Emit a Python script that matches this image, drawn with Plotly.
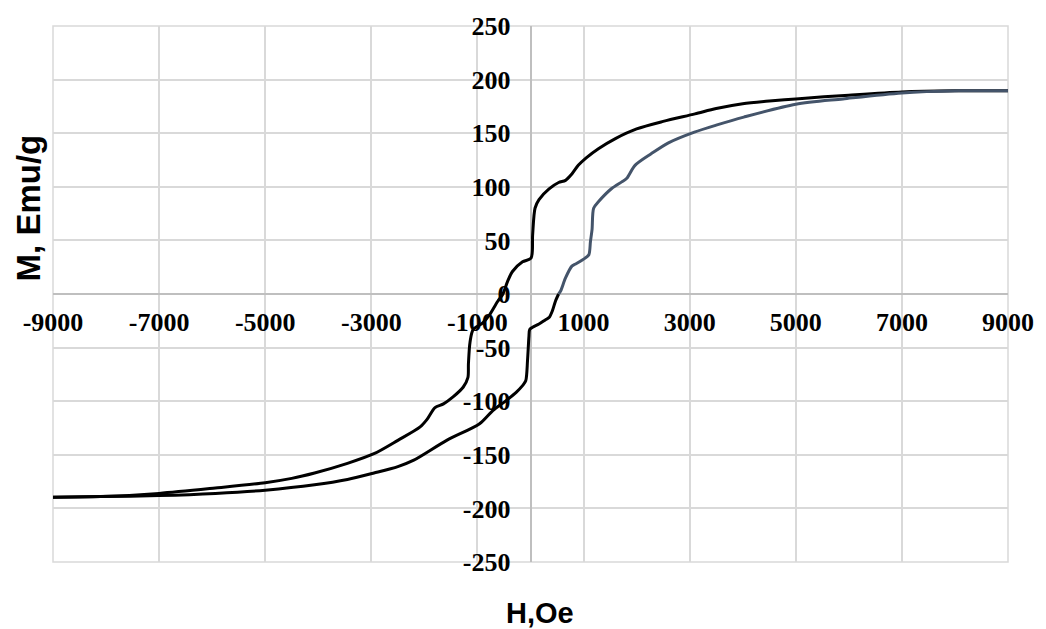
import plotly.graph_objects as go

# Descending branch (black), H from +9000 to -9000
H_desc = [9000, 8000, 7000, 6000, 5000, 4500, 4000, 3500, 3100, 2500, 2000, 1600, 1280, 1050, 900,
          780, 660, 530, 350, 160, 85, 40, 10, -150, -340, -430, -520, -620, -780, -900, -1080,
          -1140, -1170, -1180, -1270, -1460, -1640, -1800, -1950, -2080, -2500, -2950, -3450,
          -4070, -4500, -5000, -5940, -7000, -8100, -9000]
M_desc = [189.5, 189.5, 188.5, 185.5, 182, 180, 177.5, 173, 168, 161, 154, 145, 135.5, 127, 120,
          112, 106, 104, 98, 88, 80, 55, 33.5, 30, 21, 12, 0, -7, -20, -27, -33,
          -45, -65, -78, -87, -96, -102.5, -106, -117, -124, -136.5, -149, -158,
          -167, -172, -176, -181, -186, -189, -189.5]

# Ascending branch, negative-M part (black)
H_asc_neg = [-9000, -8100, -7000, -5940, -5000, -4070, -3450, -2950, -2500, -2200, -1580, -960,
             -710, -460, -270, -150, -90, -56, -30, -15, 40, 160, 290, 350, 410, 470, 530]
M_asc_neg = [-189.5, -189, -188, -186, -183, -178, -173, -167, -161, -155, -136.5, -121,
             -108.7, -99.4, -91.7, -85.5, -81, -62, -40, -33, -31, -28, -23.7, -22, -16, -6.7, 0]

# Ascending branch, positive-M part (slate)
H_asc_pos = [530, 570, 660, 780, 850, 1030, 1100, 1130, 1160, 1190, 1280, 1530, 1720, 1810,
             1970, 2280, 2600, 3090, 3500, 4020, 5000, 5890, 7000, 8070, 9000]
M_asc_pos = [0, 3, 15, 26, 28, 33.5, 36.6, 49, 60, 80, 86, 98.4, 104.6, 107.7,
             120, 131, 141, 151, 157.5, 165, 177, 182, 187.5, 189.5, 189.5]

x_tickvals = [-9000, -7000, -5000, -3000, -1000, 1000, 3000, 5000, 7000, 9000]
y_tickvals = [-250, -200, -150, -100, -50, 0, 50, 100, 150, 200, 250]

fig = go.Figure()
line_kw = dict(width=3, shape="spline", smoothing=0.8)
fig.add_trace(go.Scatter(x=H_desc, y=M_desc, mode="lines",
                         line=dict(color="#000000", **line_kw), showlegend=False))
fig.add_trace(go.Scatter(x=H_asc_neg, y=M_asc_neg, mode="lines",
                         line=dict(color="#000000", **line_kw), showlegend=False))
fig.add_trace(go.Scatter(x=H_asc_pos, y=M_asc_pos, mode="lines",
                         line=dict(color="#44546a", **line_kw), showlegend=False))

tickfont = dict(family="Liberation Serif", size=26, color="#000000", weight="bold")

fig.update_layout(
    width=1046, height=629,
    margin=dict(l=53, r=29, t=23, b=67),
    paper_bgcolor="white", plot_bgcolor="white",
    xaxis=dict(range=[-9000, 9000], tickmode="array", tickvals=x_tickvals,
               ticktext=[str(v) for v in x_tickvals],
               showgrid=True, gridcolor="#d9d9d9", gridwidth=1.5,
               zeroline=True, zerolinecolor="#bfbfbf", zerolinewidth=1.5,
               showline=False, ticks="", anchor="free", position=0.5,
               tickfont=tickfont, ticklabelstandoff=10),
    yaxis=dict(range=[-250, 250], tickmode="array", tickvals=y_tickvals,
               ticktext=[str(v) for v in y_tickvals],
               showgrid=True, gridcolor="#d9d9d9", gridwidth=1.5,
               zeroline=True, zerolinecolor="#bfbfbf", zerolinewidth=1.5,
               showline=False, ticks="", anchor="free", position=0.5,
               tickfont=tickfont, ticklabelstandoff=20),
    shapes=[dict(type="rect", xref="paper", yref="paper", x0=0, y0=0, x1=1, y1=1,
                 line=dict(color="#d9d9d9", width=1.5), layer="below")],
    annotations=[
        dict(text="M, Emu/g", xref="paper", yref="paper", x=-0.026, y=0.66,
             xanchor="center", yanchor="middle", textangle=-90, showarrow=False,
             font=dict(family="Liberation Sans", size=33, color="#000000", weight="bold")),
        dict(text="H,Oe", xref="paper", yref="paper", x=0.51, y=-0.0946,
             xanchor="center", yanchor="middle", showarrow=False,
             font=dict(family="Liberation Sans", size=29, color="#000000", weight="bold")),
    ],
)

fig.write_html("out.html")
